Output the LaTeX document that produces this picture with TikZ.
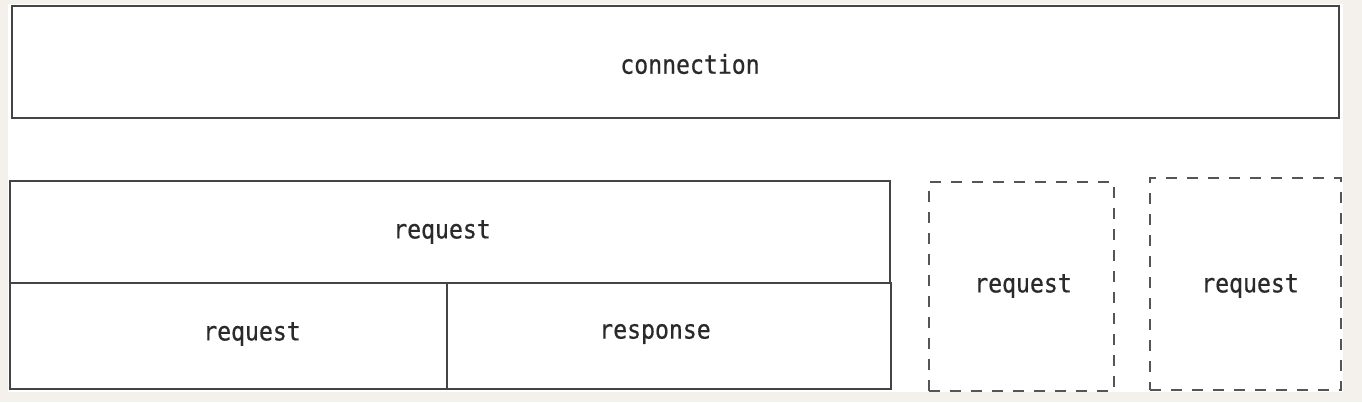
\documentclass[tikz,border=0pt]{standalone}
\usepackage{fontspec}
\newfontfamily\monof[FakeStretch=0.89,FakeBold=0.6]{DejaVu Sans Mono}
\definecolor{bgout}{HTML}{F4F1EC}
\definecolor{linec}{HTML}{444444}
\definecolor{dashc}{HTML}{555555}
\definecolor{textc}{HTML}{2A2A2A}
\tikzset{
  solidbox/.style={draw=linec, line width=1.9pt, fill=white, rectangle, inner sep=0pt},
  dashbox/.style={draw=dashc, line width=1.9pt, dash pattern=on 11pt off 10pt, fill=white, rectangle, inner sep=0pt},
  lbl/.style={text=textc, font=\monof\fontsize{26}{30}\selectfont, inner sep=0pt}
}
\begin{document}
\begin{tikzpicture}[x=1pt,y=-1pt]
\useasboundingbox (0,0) rectangle (1362,402);
\fill[bgout] (0,0) rectangle (1362,402);
\fill[white] (8,4) rectangle (1343,392);
% boxes
\node[solidbox, minimum width=1327pt, minimum height=112pt] (conn) at (675.5,62) {};
\node[solidbox, minimum width=880pt, minimum height=102pt] (req) at (450,232) {};
\node[solidbox, minimum width=437pt, minimum height=106pt] (subreq) at (228.5,336) {};
\node[solidbox, minimum width=444pt, minimum height=106pt] (resp) at (669,336) {};
\node[dashbox, minimum width=185pt, minimum height=209pt] (d1) at (1021.5,286.5) {};
\node[dashbox, minimum width=191pt, minimum height=212pt] (d2) at (1245.5,284) {};
% labels
\node[lbl] (tconn) at (690,64) {connection};
\node[lbl] (treq) at (442,232) {request};
\node[lbl] (tsub) at (252,334) {request};
\node[lbl] (tresp) at (655,334) {response};
\node[lbl] (td1) at (1023,286) {request};
\node[lbl] (td2) at (1250,286) {request};
\end{tikzpicture}
\end{document}
